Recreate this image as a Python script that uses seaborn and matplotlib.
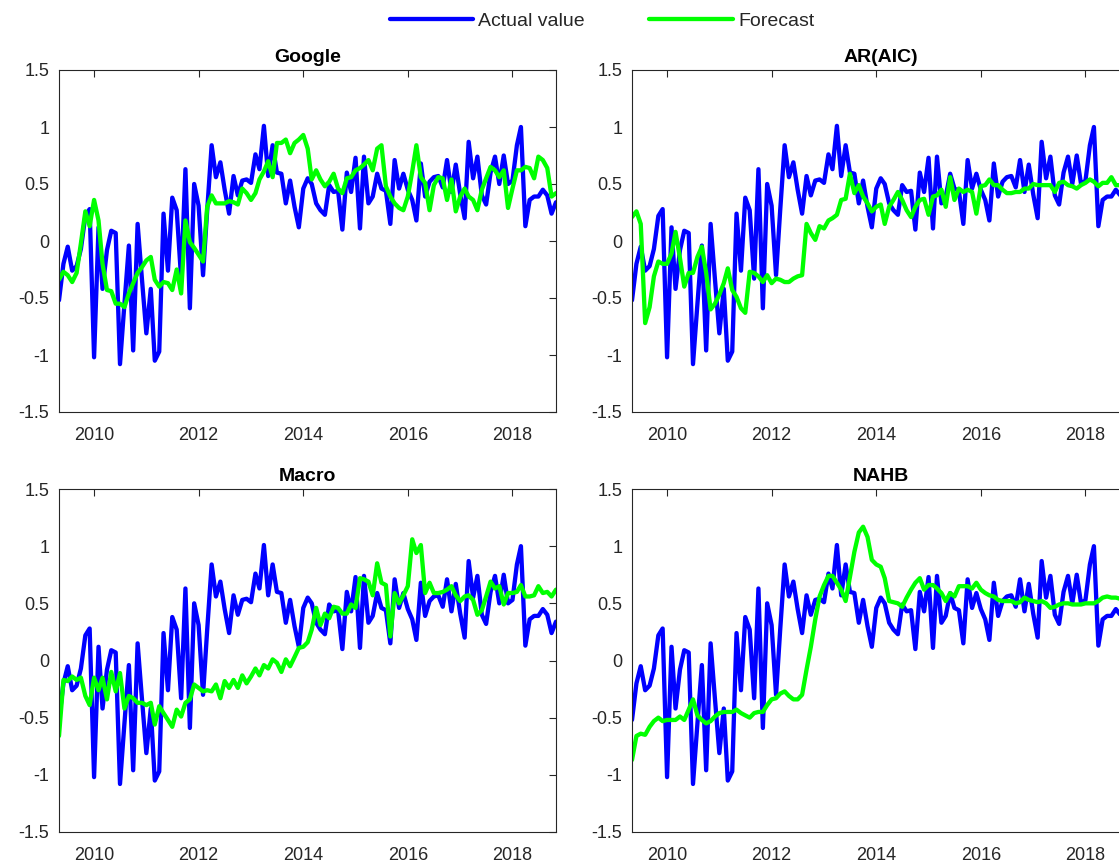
import numpy as np
import pandas as pd
import matplotlib
matplotlib.use("Agg")
import matplotlib.pyplot as plt
import matplotlib.dates as mdates
from matplotlib.lines import Line2D
import seaborn as sns

# Monthly observations, May 2009 - Nov 2018
START = "2009-05-01"
N_MONTHS = 115

actual = [
    -0.52, -0.2, -0.05, -0.26, -0.22, -0.07, 0.22, 0.28, -1.02, 0.12,
    -0.42, -0.08, 0.09, 0.07, -1.08, -0.55, -0.04, -0.96, 0.15, -0.33,
    -0.81, -0.42, -1.05, -0.97, 0.24, -0.26, 0.38, 0.27, -0.33, 0.63,
    -0.59, 0.5, 0.31, -0.3, 0.27, 0.84, 0.56, 0.69, 0.45, 0.24,
    0.57, 0.4, 0.53, 0.54, 0.51, 0.76, 0.63, 1.01, 0.57, 0.84,
    0.6, 0.59, 0.33, 0.53, 0.3, 0.12, 0.46, 0.55, 0.5, 0.33,
    0.27, 0.23, 0.49, 0.43, 0.44, 0.1, 0.6, 0.43, 0.73, 0.11,
    0.74, 0.33, 0.39, 0.59, 0.46, 0.44, 0.15, 0.71, 0.46, 0.59,
    0.45, 0.36, 0.18, 0.68, 0.39, 0.52, 0.56, 0.57, 0.47, 0.71,
    0.43, 0.67, 0.41, 0.2, 0.87, 0.55, 0.74, 0.4, 0.32, 0.6,
    0.74, 0.5, 0.75, 0.5, 0.53, 0.84, 1.0, 0.13, 0.36, 0.39,
    0.39, 0.45, 0.4, 0.24, 0.34,
]

forecast_google = [
    -0.34, -0.27, -0.3, -0.36, -0.28, -0.02, 0.26, 0.13, 0.36, 0.18,
    -0.2, -0.43, -0.44, -0.55, -0.55, -0.58, -0.46, -0.37, -0.28, -0.23,
    -0.17, -0.14, -0.34, -0.4, -0.36, -0.37, -0.43, -0.25, -0.46, 0.18,
    -0.01, -0.06, -0.12, -0.18, 0.3, 0.4, 0.33, 0.33, 0.33, 0.35,
    0.34, 0.32, 0.46, 0.42, 0.36, 0.42, 0.54, 0.61, 0.7, 0.56,
    0.86, 0.86, 0.89, 0.77, 0.86, 0.89, 0.93, 0.81, 0.54, 0.62,
    0.54, 0.48, 0.52, 0.59, 0.46, 0.42, 0.55, 0.56, 0.62, 0.64,
    0.67, 0.71, 0.62, 0.81, 0.84, 0.48, 0.39, 0.33, 0.29, 0.27,
    0.39, 0.61, 0.84, 0.56, 0.51, 0.27, 0.49, 0.56, 0.55, 0.36,
    0.54, 0.26, 0.39, 0.46, 0.39, 0.36, 0.27, 0.45, 0.55, 0.65,
    0.62, 0.56, 0.62, 0.29, 0.46, 0.62, 0.62, 0.65, 0.64, 0.55,
    0.74, 0.71, 0.64, 0.39, 0.42,
]

forecast_ar = [
    0.21, 0.26, 0.15, -0.72, -0.58, -0.31, -0.18, -0.2, -0.2, -0.11,
    0.08, -0.15, -0.4, -0.28, -0.28, -0.14, -0.05, -0.28, -0.6, -0.55,
    -0.47, -0.37, -0.24, -0.43, -0.49, -0.59, -0.63, -0.27, -0.28, -0.31,
    -0.36, -0.3, -0.37, -0.33, -0.34, -0.36, -0.36, -0.33, -0.31, -0.3,
    0.15, 0.07, 0.01, 0.13, 0.11, 0.18, 0.2, 0.23, 0.36, 0.37,
    0.59, 0.42, 0.49, 0.39, 0.33, 0.26, 0.3, 0.32, 0.15, 0.3,
    0.36, 0.43, 0.36, 0.27, 0.21, 0.3, 0.36, 0.37, 0.23, 0.39,
    0.4, 0.45, 0.3, 0.56, 0.36, 0.46, 0.43, 0.45, 0.43, 0.24,
    0.48, 0.49, 0.54, 0.49, 0.49, 0.45, 0.42, 0.42, 0.43, 0.43,
    0.46, 0.46, 0.5, 0.49, 0.49, 0.49, 0.49, 0.43, 0.51, 0.52,
    0.49, 0.48, 0.46, 0.49, 0.51, 0.54, 0.52, 0.48, 0.51, 0.51,
    0.56, 0.49, 0.49, 0.48, 0.47,
]

forecast_macro = [
    -0.66, -0.17, -0.18, -0.14, -0.17, -0.15, -0.31, -0.39, -0.15, -0.26,
    -0.15, -0.34, -0.1, -0.27, -0.11, -0.42, -0.31, -0.33, -0.37, -0.37,
    -0.39, -0.37, -0.56, -0.4, -0.46, -0.52, -0.58, -0.43, -0.49, -0.37,
    -0.34, -0.21, -0.24, -0.27, -0.26, -0.27, -0.21, -0.33, -0.18, -0.24,
    -0.17, -0.24, -0.13, -0.2, -0.14, -0.07, -0.13, -0.04, -0.07, 0.01,
    -0.02, -0.1, 0.01, -0.05, 0.03, 0.11, 0.12, 0.16, 0.27, 0.46,
    0.31, 0.41, 0.37, 0.47, 0.46, 0.41, 0.41, 0.49, 0.46, 0.72,
    0.71, 0.69, 0.57, 0.85, 0.68, 0.66, 0.21, 0.59, 0.5, 0.57,
    0.65, 1.06, 0.94, 1.01, 0.59, 0.68, 0.59, 0.59, 0.6, 0.62,
    0.65, 0.57, 0.52, 0.56, 0.57, 0.53, 0.4, 0.44, 0.56, 0.69,
    0.63, 0.65, 0.49, 0.59, 0.59, 0.6, 0.66, 0.56, 0.56, 0.57,
    0.65, 0.59, 0.6, 0.56, 0.62,
]

forecast_nahb = [
    -0.87, -0.66, -0.64, -0.65, -0.58, -0.53, -0.5, -0.53, -0.52, -0.52,
    -0.52, -0.49, -0.52, -0.43, -0.34, -0.48, -0.52, -0.55, -0.53, -0.49,
    -0.46, -0.45, -0.45, -0.45, -0.43, -0.46, -0.48, -0.5, -0.46, -0.45,
    -0.45, -0.39, -0.34, -0.33, -0.29, -0.27, -0.31, -0.34, -0.34, -0.3,
    -0.08, 0.12, 0.36, 0.56, 0.66, 0.74, 0.74, 0.68, 0.62, 0.52,
    0.73, 0.95, 1.12, 1.17, 1.08, 0.88, 0.84, 0.82, 0.72, 0.52,
    0.51, 0.5, 0.47, 0.55, 0.62, 0.68, 0.72, 0.62, 0.66, 0.66,
    0.63, 0.59, 0.52, 0.59, 0.56, 0.65, 0.65, 0.65, 0.63, 0.68,
    0.62, 0.59, 0.57, 0.56, 0.53, 0.52, 0.52, 0.52, 0.5, 0.51,
    0.55, 0.53, 0.52, 0.51, 0.52, 0.5, 0.46, 0.47, 0.49, 0.5,
    0.5, 0.49, 0.49, 0.49, 0.5, 0.5, 0.5, 0.52, 0.55, 0.56,
    0.55, 0.55, 0.54, 0.54, 0.54,
]

panel_titles = ["Google", "AR(AIC)", "Macro", "NAHB"]
panel_forecasts = [forecast_google, forecast_ar, forecast_macro, forecast_nahb]
series_names = ["Actual value", "Forecast"]
series_colors = {"Actual value": "#0000FF", "Forecast": "#00FF00"}
y_ticks = [-1.5, -1, -0.5, 0, 0.5, 1, 1.5]
y_tick_labels = ["-1.5", "-1", "-0.5", "0", "0.5", "1", "1.5"]

dates = pd.date_range(START, periods=N_MONTHS, freq="MS")

sns.set_style("white")
plt.rcParams["font.family"] = ["Liberation Sans", "DejaVu Sans"]
plt.rcParams["axes.unicode_minus"] = False

W, H = 1119, 867
fig = plt.figure(figsize=(W / 100, H / 100), dpi=100)

# axes boxes in pixels: (left, top, width, height)
boxes = [(59, 70, 497, 342), (632, 70, 497, 342),
         (59, 489, 497, 343), (632, 489, 497, 343)]

axis_color = "#262626"
for (l, t, w, h), title, fc in zip(boxes, panel_titles, panel_forecasts):
    ax = fig.add_axes([l / W, 1 - (t + h) / H, w / W, h / H])
    df = pd.DataFrame({
        "date": np.concatenate([dates, dates]),
        "value": np.concatenate([actual, fc]),
        "series": [series_names[0]] * N_MONTHS + [series_names[1]] * N_MONTHS,
    })
    sns.lineplot(data=df, x="date", y="value", hue="series",
                 hue_order=series_names, palette=series_colors,
                 linewidth=3.1, legend=False, ax=ax)
    ax.set_xlim(dates[0], dates[-1])
    ax.set_ylim(-1.5, 1.5)
    ax.set_yticks(y_ticks)
    ax.set_yticklabels(y_tick_labels)
    ax.xaxis.set_major_locator(mdates.YearLocator(2))
    ax.xaxis.set_major_formatter(mdates.DateFormatter("%Y"))
    ax.set_xlabel("")
    ax.set_ylabel("")
    ax.set_title(title, fontsize=14, fontweight="bold", pad=6, color="black")
    for sp in ax.spines.values():
        sp.set_visible(True)
        sp.set_color(axis_color)
        sp.set_linewidth(0.8)
    ax.tick_params(axis="both", which="major", direction="in", length=5,
                   width=0.8, color=axis_color, labelcolor=axis_color,
                   labelsize=13, top=True, right=True)
    ax.tick_params(axis="x", pad=10.5)
    ax.tick_params(axis="y", pad=7)
    ax.grid(False)

handles = [Line2D([0], [0], color=series_colors[s], lw=3.1) for s in series_names]
fig.legend(handles, series_names, loc="center",
           bbox_to_anchor=(602 / W, 1 - 21 / H), ncol=2, frameon=False,
           fontsize=14, handlelength=4.3, handletextpad=0.26,
           columnspacing=3.3)

fig.savefig("out.png", dpi=100)
